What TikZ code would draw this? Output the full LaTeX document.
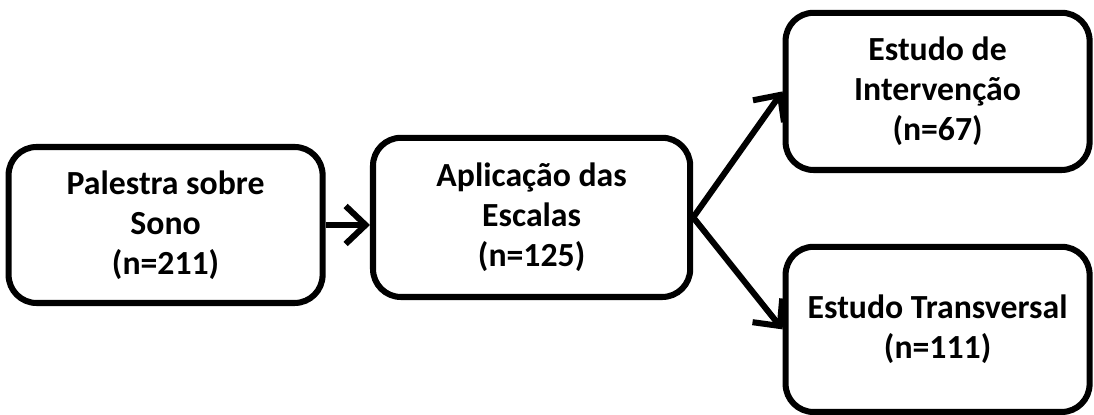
\documentclass[tikz,border=0pt]{standalone}
\usepackage{fontspec}
\setmainfont{Carlito}
\usetikzlibrary{arrows.meta}

\begin{document}
\begin{tikzpicture}[
    etapa/.style={draw=black, line width=4.3pt, rounded corners=0.7cm, fill=white,
        align=center, inner sep=2pt, font=\fontsize{24}{28.5}\selectfont\bfseries},
    seta/.style={line width=4.3pt, -{Straight Barb[length=0.5cm,width=0.95cm]}}
]
		\useasboundingbox (0,0) rectangle (27.35,10.375);
		\node[etapa, minimum width=7.85cm, minimum height=3.9cm] (palestra) at (4.14,4.75) {Palestra sobre\\ Sono\\ (n=211)};
		\node[etapa, minimum width=7.93cm, minimum height=3.98cm] (escalas) at (13.29,4.94) {Aplicação das\\ Escalas\\ (n=125)};
		\node[etapa, minimum width=7.6cm, minimum height=3.93cm] (intervencao) at (23.44,8.09) {Estudo de\\ Intervenção\\ (n=67)};
		\node[etapa, minimum width=7.6cm, minimum height=4.13cm] (transversal) at (23.44,2.14) {Estudo Transversal\\ (n=111)};
		% setas
		\draw[seta] (palestra.east) -- (palestra.east -| escalas.west);
		\draw[seta] (escalas.east) -- (intervencao.west);
		\draw[seta] (escalas.east) -- (transversal.west);
\end{tikzpicture}
\end{document}
